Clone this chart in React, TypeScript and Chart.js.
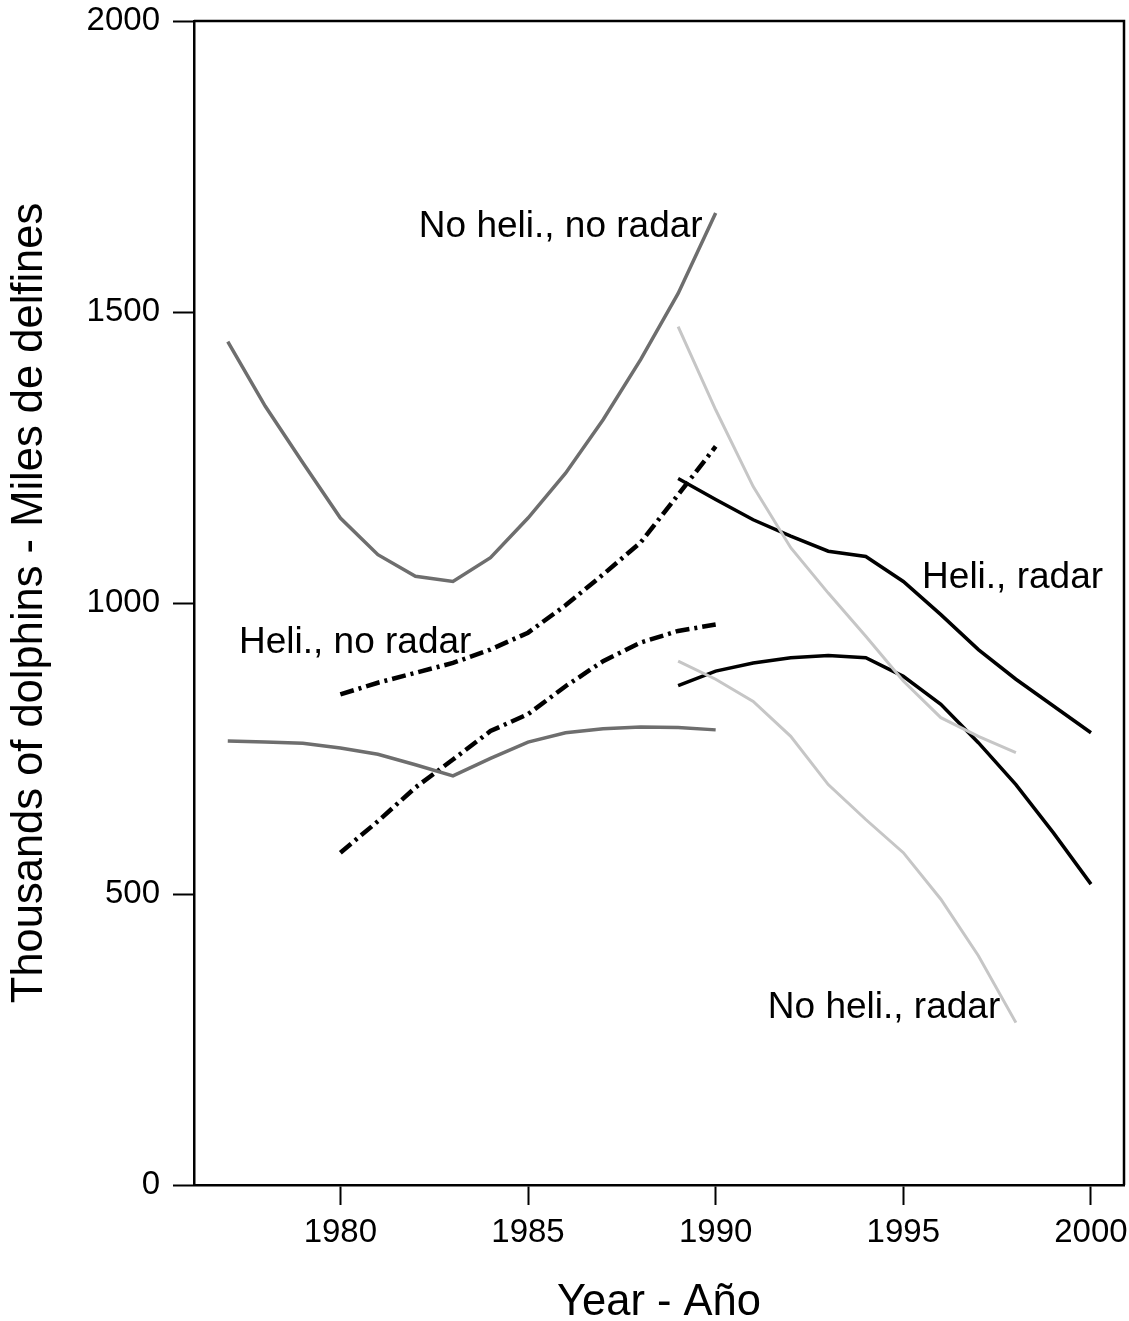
import React, { useEffect, useRef } from "react";
import { Chart, registerables } from "chart.js";

Chart.register(...registerables);

// ---- Data (thousands of dolphins) ----
const yearsEarly = [1977, 1978, 1979, 1980, 1981, 1982, 1983, 1984, 1985, 1986, 1987, 1988, 1989, 1990];
const yearsHeliEarly = [1980, 1981, 1982, 1983, 1984, 1985, 1986, 1987, 1988, 1989, 1990];
const yearsNoHeliLate = [1989, 1990, 1991, 1992, 1993, 1994, 1995, 1996, 1997, 1998];
const yearsHeliLate = [1989, 1990, 1991, 1992, 1993, 1994, 1995, 1996, 1997, 1998, 1999, 2000];

const noHeliNoRadarUpper = [1449, 1338, 1241, 1146, 1083, 1046, 1037, 1078, 1146, 1223, 1315, 1418, 1532, 1670];
const noHeliNoRadarLower = [763, 761, 759, 751, 740, 722, 703, 733, 761, 777, 784, 787, 786, 782];
const heliNoRadarUpper = [843, 863, 880, 897, 920, 949, 996, 1049, 1104, 1186, 1269];
const heliNoRadarLower = [571, 625, 683, 731, 780, 809, 857, 900, 932, 952, 963];
const noHeliRadarUpper = [1475, 1332, 1200, 1095, 1017, 943, 866, 803, 771, 743];
const noHeliRadarLower = [900, 869, 831, 771, 688, 628, 571, 491, 394, 279];
const heliRadarUpper = [1214, 1178, 1143, 1115, 1089, 1080, 1037, 980, 920, 869, 823, 777];
const heliRadarLower = [858, 883, 897, 906, 910, 906, 874, 826, 760, 688, 605, 517];

const xTicks = [1980, 1985, 1990, 1995, 2000];
const yTicks = [0, 500, 1000, 1500, 2000];

// Curve labels anchored in data units (left, baseline)
const curveLabelText = ["No heli., no radar", "Heli., no radar", "Heli., radar", "No heli., radar"];
const curveLabelYear = [1982.09, 1977.3, 1995.5, 1991.39];
const curveLabelValue = [1629, 914, 1026, 287];

const FONT = "'Liberation Sans', Arial, Helvetica, sans-serif";

export default function App() {
  const ref = useRef<HTMLCanvasElement | null>(null);

  useEffect(() => {
    document.body.style.margin = "0";
    const canvas = ref.current;
    if (!canvas) return;

    const pts = (xs: number[], ys: number[]) => xs.map((x, i) => ({ x, y: ys[i] }));

    const darkGray = "#6e6e6e";
    const lightGray = "#c6c6c6";
    const dashDot = [14, 5, 3, 5];

    const frame = {
      id: "frame",
      afterDatasetsDraw(chart: any) {
        const { ctx, chartArea } = chart;
        ctx.save();
        ctx.strokeStyle = "#000";
        ctx.lineWidth = 2.5;
        ctx.beginPath();
        ctx.moveTo(chartArea.left, chartArea.top);
        ctx.lineTo(chartArea.right, chartArea.top);
        ctx.lineTo(chartArea.right, chartArea.bottom);
        ctx.stroke();
        ctx.restore();
      },
    };

    const labels = {
      id: "curveLabels",
      afterDatasetsDraw(chart: any) {
        const { ctx, scales } = chart;
        ctx.save();
        ctx.fillStyle = "#000";
        ctx.font = `37px ${FONT}`;
        ctx.textAlign = "left";
        ctx.textBaseline = "alphabetic";
        curveLabelText.forEach((t, i) => {
          ctx.fillText(t, scales.x.getPixelForValue(curveLabelYear[i]), scales.y.getPixelForValue(curveLabelValue[i]));
        });
        ctx.restore();
      },
    };

    const line = (data: any[], color: string, width: number, dash: number[] = []) => ({
      data,
      borderColor: color,
      borderWidth: width,
      borderDash: dash,
      pointRadius: 0,
      tension: 0,
      fill: false,
    });

    const noPad = (s: any) => {
      s.paddingTop = 0;
      s.paddingBottom = 0;
      s.paddingLeft = 0;
      s.paddingRight = 0;
    };

    const chart = new Chart(canvas, {
      type: "line",
      data: {
        datasets: [
          line(pts(yearsEarly, noHeliNoRadarUpper), darkGray, 3.5),
          line(pts(yearsEarly, noHeliNoRadarLower), darkGray, 3.5),
          line(pts(yearsHeliEarly, heliNoRadarUpper), "#000", 4.5, dashDot),
          line(pts(yearsHeliEarly, heliNoRadarLower), "#000", 4.5, dashDot),
          line(pts(yearsNoHeliLate, noHeliRadarUpper), lightGray, 3),
          line(pts(yearsNoHeliLate, noHeliRadarLower), lightGray, 3),
          line(pts(yearsHeliLate, heliRadarUpper), "#000", 3.5),
          line(pts(yearsHeliLate, heliRadarLower), "#000", 3.5),
        ],
      },
      options: {
        responsive: false,
        animation: false,
        devicePixelRatio: 1,
        layout: { padding: { top: 21, right: 5, bottom: 0, left: 0 } },
        plugins: { legend: { display: false }, tooltip: { enabled: false } },
        scales: {
          x: {
            type: "linear",
            min: 1976.1,
            max: 2000.88,
            afterBuildTicks: (s: any) => {
              s.ticks = xTicks.map((v) => ({ value: v }));
            },
            afterFit: (s: any) => {
              s.height = 136;
              noPad(s);
            },
            ticks: {
              callback: (v: any) => String(v),
              font: { size: 33, family: FONT },
              color: "#000",
              padding: 8,
              maxRotation: 0,
              autoSkip: false,
            },
            grid: { display: true, drawOnChartArea: false, drawTicks: true, tickLength: 20, tickWidth: 2, tickColor: "#000" },
            border: { display: true, color: "#000", width: 2.5 },
            title: {
              display: true,
              text: "Year - Año",
              color: "#000",
              font: { size: 43.5, family: FONT, lineHeight: 0.85 },
              padding: { top: 0, bottom: 0 },
            },
          },
          y: {
            type: "linear",
            min: 0,
            max: 2000,
            afterBuildTicks: (s: any) => {
              s.ticks = yTicks.map((v) => ({ value: v }));
            },
            afterFit: (s: any) => {
              s.width = 194;
              noPad(s);
            },
            ticks: {
              callback: (v: any) => String(v),
              font: { size: 33, family: FONT },
              color: "#000",
              padding: 13,
            },
            grid: { display: true, drawOnChartArea: false, drawTicks: true, tickLength: 21, tickWidth: 2, tickColor: "#000" },
            border: { display: true, color: "#000", width: 2.5 },
            title: {
              display: true,
              text: "Thousands of dolphins - Miles de delfines",
              color: "#000",
              font: { size: 43.5, family: FONT, lineHeight: 1 },
              padding: { top: 8, bottom: 0 },
            },
          },
        },
      },
      plugins: [frame, labels],
    } as any);

    return () => chart.destroy();
  }, []);

  return (
    <div style={{ width: 1129, height: 1321 }}>
      <canvas ref={ref} width={1129} height={1321} style={{ display: "block" }} />
    </div>
  );
}
